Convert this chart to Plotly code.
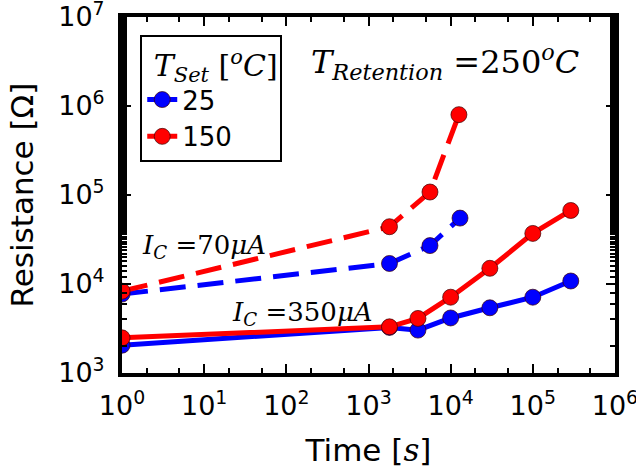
import plotly.graph_objects as go

# ---- data ----
time_350_25 = [1, 1800, 4000, 10000, 30000, 100000, 290000]
res_350_25 = [2050, 3250, 3030, 4150, 5400, 7100, 10800]

time_350_150 = [1, 1800, 4000, 10000, 30000, 100000, 290000]
res_350_150 = [2480, 3300, 4100, 7100, 15000, 37000, 67000]

time_70_25 = [1, 1800, 5600, 13000]
res_70_25 = [7700, 17000, 27000, 55000]

time_70_150 = [1, 1800, 5600, 12600]
res_70_150 = [8300, 44000, 108000, 800000]

series_names = ["25", "150"]

x_tickvals = [1, 10, 100, 1e3, 1e4, 1e5, 1e6]
x_ticktext = ["10<sup>0</sup>", "10<sup>1</sup>", "10<sup>2</sup>", "10<sup>3</sup>",
              "10<sup>4</sup>", "10<sup>5</sup>", "10<sup>6</sup>"]
y_tickvals = [1e3, 1e4, 1e5, 1e6, 1e7]
y_ticktext = ["10<sup>3</sup>", "10<sup>4</sup>", "10<sup>5</sup>", "10<sup>6</sup>", "10<sup>7</sup>"]

BLUE = "#0000ff"
RED = "#ff0000"
SERIF = "DejaVu Serif"
SANS = "DejaVu Sans"

fig = go.Figure()

def add(x, y, color, dash, name, show):
    fig.add_trace(go.Scatter(
        x=x, y=y, mode="lines+markers", name=name, showlegend=show,
        line=dict(color=color, width=5, dash=dash),
        marker=dict(size=16, color=color, line=dict(color="rgba(60,0,0,0.7)", width=1)),
    ))

add(time_70_25, res_70_25, BLUE, "26px,12px", series_names[0], False)
add(time_70_150, res_70_150, RED, "26px,12px", series_names[1], False)
add(time_350_25, res_350_25, BLUE, "solid", series_names[0], True)
add(time_350_150, res_350_150, RED, "solid", series_names[1], True)

axis_common = dict(
    type="log",
    automargin=False,
    showline=True, linecolor="black", linewidth=4, mirror="allticks",
    ticks="inside", ticklen=9, tickwidth=2, tickcolor="black",
    showgrid=False, zeroline=False,
    ticklabeloverflow="allow",
    tickfont=dict(family=SANS, size=27, color="black"),
    minor=dict(ticks="inside", ticklen=5, tickwidth=1.5, tickcolor="black", showgrid=False),
)

fig.update_xaxes(range=[-0.0005, 6.0005], tickmode="array", tickvals=x_tickvals, ticktext=x_ticktext,
                 ticklabelstandoff=6,
                 title=dict(text="Time [<span style='font-family:DejaVu Serif'><i>s</i></span>]",
                            font=dict(family=SANS, size=31, color="black"), standoff=20), **axis_common)
fig.update_yaxes(range=[2.9995, 7.0005], tickmode="array", tickvals=y_tickvals, ticktext=y_ticktext,
                 ticklabelstandoff=8,
                 title=dict(text="Resistance [Ω]",
                            font=dict(family=SANS, size=31, color="black"), standoff=16), **axis_common)

fig.add_annotation(xref="paper", yref="paper", x=0.655, y=0.875, xanchor="center", yanchor="middle",
                   text="<i>T</i><sub><i>Retention</i></sub> =250<sup><i>o</i></sup><i>C</i>",
                   showarrow=False, font=dict(family=SERIF, size=32, color="black"))
fig.add_annotation(xref="paper", yref="paper", x=0.166, y=0.355, xanchor="center", yanchor="middle",
                   text="<i>I</i><sub><i>C</i></sub> =70<i>μA</i>",
                   showarrow=False, font=dict(family=SERIF, size=26, color="black"))
fig.add_annotation(xref="paper", yref="paper", x=0.367, y=0.166, xanchor="center", yanchor="middle",
                   text="<i>I</i><sub><i>C</i></sub> =350<i>μA</i>",
                   showarrow=False, font=dict(family=SERIF, size=26, color="black"))

fig.update_layout(
    width=636, height=470,
    margin=dict(l=122, r=21, t=17, b=97, autoexpand=False),
    paper_bgcolor="white", plot_bgcolor="white",
    legend=dict(
        x=0.037, y=0.949, xanchor="left", yanchor="top",
        bordercolor="black", borderwidth=2, bgcolor="white",
        font=dict(family=SANS, size=26, color="black"),
        title=dict(text="&nbsp;<i>T</i><sub><i>Set</i></sub> [<sup><i>o</i></sup><i>C</i>]",
                   font=dict(family=SERIF, size=30, color="black"), side="top"),
        tracegroupgap=0,
    ),
)

fig.write_html("out.html")
